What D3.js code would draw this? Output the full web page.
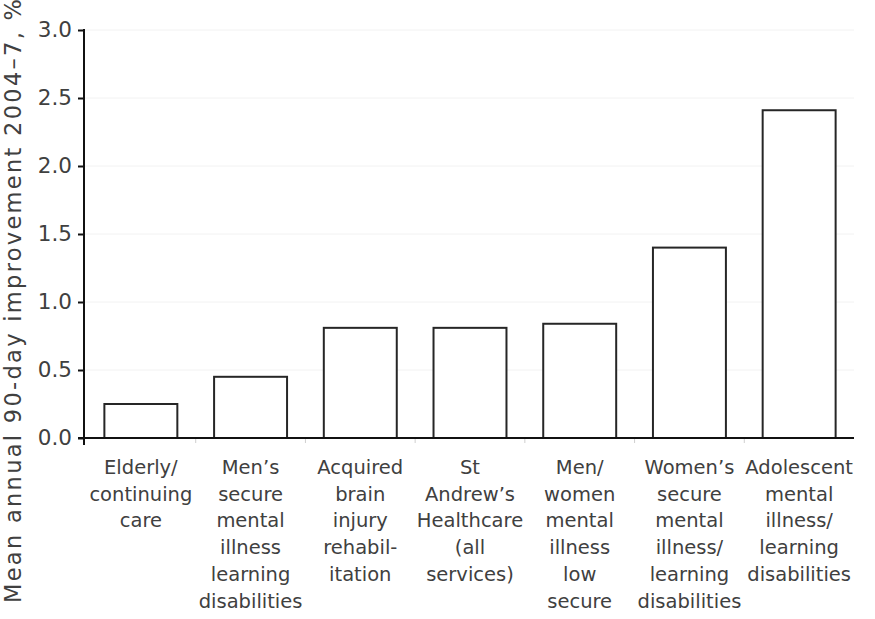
<!DOCTYPE html>
<html>
<head>
<meta charset="utf-8">
<script src="https://cdn.jsdelivr.net/npm/d3@7"></script>
<style>
  html, body { margin: 0; padding: 0; background: #fff; }
  svg { display: block; }
  text { font-family: "DejaVu Sans", sans-serif; fill: #404040; }
</style>
</head>
<body>
<svg id="chart" width="875" height="619"></svg>
<script>
const categories = [
  ["Elderly/", "continuing", "care"],
  ["Men\u2019s", "secure", "mental", "illness", "learning", "disabilities"],
  ["Acquired", "brain", "injury", "rehabil-", "itation"],
  ["St", "Andrew\u2019s", "Healthcare", "(all", "services)"],
  ["Men/", "women", "mental", "illness", "low", "secure"],
  ["Women\u2019s", "secure", "mental", "illness/", "learning", "disabilities"],
  ["Adolescent", "mental", "illness/", "learning", "disabilities"]
];
const values = [0.25, 0.45, 0.81, 0.81, 0.84, 1.40, 2.41];
const yTicks = [0, 0.5, 1.0, 1.5, 2.0, 2.5, 3.0];
const yLabel = "Mean annual 90-day improvement 2004\u20137, %";

(function () {
const svg = d3.select("#chart");
const mLeft = 84, mRight = 854, mTop = 30, mBottom = 438;

const x = d3.scaleBand()
  .domain(d3.range(categories.length))
  .range([mLeft + 2, mRight])
  .paddingInner(0.335)
  .paddingOuter(0.1675);

const y = d3.scaleLinear().domain([0, 3]).range([mBottom, mTop]);

// faint gridlines
svg.append("g").selectAll("line")
  .data(yTicks.filter(d => d > 0))
  .join("line")
  .attr("x1", mLeft).attr("x2", mRight)
  .attr("y1", d => y(d)).attr("y2", d => y(d))
  .attr("stroke", "#f2f2f2").attr("stroke-width", 1);

// faint band separator ticks
const step = x.step();
svg.append("g").selectAll("line")
  .data(d3.range(1, categories.length))
  .join("line")
  .attr("x1", d => x(d) - step * x.paddingInner() / 2)
  .attr("x2", d => x(d) - step * x.paddingInner() / 2)
  .attr("y1", mBottom).attr("y2", mBottom + 5)
  .attr("stroke", "#cfcfcf").attr("stroke-width", 1);

// bars
svg.append("g").selectAll("rect")
  .data(values)
  .join("rect")
  .attr("x", (d, i) => x(i))
  .attr("width", x.bandwidth())
  .attr("y", d => y(d))
  .attr("height", d => y(0) - y(d))
  .attr("fill", "#fff")
  .attr("stroke", "#262626")
  .attr("stroke-width", 2);

// y axis
const yAxis = d3.axisLeft(y)
  .tickValues(yTicks)
  .tickFormat(d3.format(".1f"))
  .tickSize(6)
  .tickPadding(6);
const gy = svg.append("g").attr("transform", `translate(${mLeft},0)`).call(yAxis);
gy.select(".domain").remove();
gy.selectAll(".tick line").attr("stroke", "#111").attr("stroke-width", 2);
gy.selectAll(".tick text")
  .attr("font-size", 21.5)
  .attr("font-family", "DejaVu Sans, sans-serif")
  .attr("fill", "#404040");
svg.append("line")
  .attr("x1", mLeft).attr("x2", mLeft)
  .attr("y1", mTop - 1).attr("y2", mBottom + 7)
  .attr("stroke", "#111").attr("stroke-width", 2);

// x axis line
svg.append("line")
  .attr("x1", mLeft - 6).attr("x2", mRight)
  .attr("y1", mBottom).attr("y2", mBottom)
  .attr("stroke", "#111").attr("stroke-width", 2);

// category labels
const lab = svg.append("g").selectAll("text")
  .data(categories)
  .join("text")
  .attr("text-anchor", "middle")
  .attr("font-size", 19.5)
  .attr("x", (d, i) => x(i) + x.bandwidth() / 2)
  .attr("y", 474);
lab.selectAll("tspan")
  .data(d => d)
  .join("tspan")
  .attr("x", function () { return d3.select(this.parentNode).attr("x"); })
  .attr("dy", (d, i) => i === 0 ? 0 : 26.7)
  .text(d => d);

// y label
svg.append("text")
  .attr("transform", `translate(21, 301) rotate(-90)`)
  .attr("text-anchor", "middle")
  .attr("font-size", 22.5)
  .attr("textLength", 604)
  .attr("lengthAdjust", "spacing")
  .text(yLabel);
})();
</script>
</body>
</html>
